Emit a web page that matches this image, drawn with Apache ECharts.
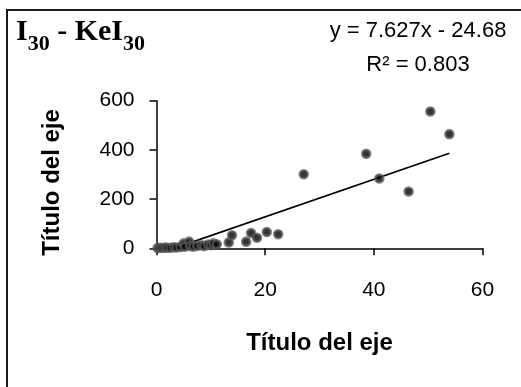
<!DOCTYPE html>
<html>
<head>
<meta charset="utf-8">
<script src="https://cdn.jsdelivr.net/npm/echarts@6/dist/echarts.min.js"></script>
<style>
  html, body { margin: 0; padding: 0; background: #fff; }
  #chart { width: 521px; height: 387px; }
</style>
</head>
<body>
<div id="chart"></div>
<script>
// I30 versus KeI30 observations
const xValues = [0.2, 0.6, 1.1, 1.6, 2.0, 2.6, 3.2, 3.7, 4.4, 5.0, 5.2, 6.0, 6.2, 6.8, 7.5, 8.3, 8.8, 9.5, 10.0, 10.5, 11.1, 13.3, 13.9, 16.5, 17.4, 18.5, 20.3, 22.4, 27.1, 38.6, 41.0, 46.4, 50.4, 53.9];
const yValues = [1, 2, 1, 3, 2, 2, 4, 3, 5, 20, 6, 27, 9, 7, 10, 12, 9, 15, 13, 20, 16, 24, 53, 27, 62, 43, 66, 57, 301, 384, 284, 231, 556, 464];

// Linear trend line y = slope * x + intercept
const slope = 7.627;
const intercept = -24.68;
const rSquared = 0.803;

const xTicks = { min: 0, max: 60, interval: 20 };
const yTicks = { min: 0, max: 600, interval: 200 };

const axisTitle = 'Título del eje';

const points = xValues.map((x, i) => [x, yValues[i]]);
const xMin = Math.min(...xValues);
const xMax = Math.max(...xValues);
const trend = [[xMin, slope * xMin + intercept], [xMax, slope * xMax + intercept]];

const sans = 'Liberation Sans';
const chart = echarts.init(document.getElementById('chart'));
chart.setOption({
  backgroundColor: '#fff',
  animation: false,
  title: {
    left: 16,
    top: 17,
    padding: 0,
    text: '{m|I}{s|30}{m| - KeI}{s|30}',
    textStyle: {
      rich: {
        m: { fontFamily: 'Liberation Serif', fontWeight: 'bold', fontSize: 30, lineHeight: 30, color: '#000', verticalAlign: 'top' },
        s: { fontFamily: 'Liberation Serif', fontWeight: 'bold', fontSize: 22, lineHeight: 22, color: '#000', verticalAlign: 'top', padding: [16, 0, 0, 0] }
      }
    }
  },
  graphic: [
    {
      type: 'rect',
      silent: true,
      shape: { x: 7, y: 10, width: 700, height: 600 },
      style: { fill: 'none', stroke: '#1a1a1a', lineWidth: 2 }
    },
    {
      type: 'text',
      x: 418,
      y: 14.4,
      style: {
        text: 'y = ' + slope + 'x - ' + Math.abs(intercept) + '\nR² = ' + rSquared,
        font: '22px "' + sans + '"',
        fill: '#000',
        align: 'center',
        verticalAlign: 'top',
        lineHeight: 34
      }
    }
  ],
  grid: { left: 156.5, right: 38.5, top: 100.7, bottom: 138.7, containLabel: false },
  xAxis: {
    type: 'value',
    min: xTicks.min, max: xTicks.max, interval: xTicks.interval,
    name: axisTitle,
    nameLocation: 'middle',
    nameGap: 83,
    nameTextStyle: { fontFamily: sans, fontWeight: 'bold', fontSize: 24, color: '#000' },
    axisLine: { show: true, lineStyle: { color: '#000', width: 1.5 } },
    axisTick: { show: true, inside: false, length: 7, lineStyle: { color: '#000', width: 1.5 } },
    axisLabel: { fontFamily: sans, fontSize: 21, color: '#000', margin: 31 },
    splitLine: { show: false }
  },
  yAxis: {
    type: 'value',
    min: yTicks.min, max: yTicks.max, interval: yTicks.interval,
    name: axisTitle,
    nameLocation: 'middle',
    nameGap: 92,
    nameTextStyle: { fontFamily: sans, fontWeight: 'bold', fontSize: 24, color: '#000', padding: [0, 16, 0, 0] },
    axisLine: { show: true, lineStyle: { color: '#000', width: 1.5 } },
    axisTick: { show: true, inside: false, length: 7, lineStyle: { color: '#000', width: 1.5 } },
    axisLabel: { fontFamily: sans, fontSize: 21, color: '#000', margin: 22, padding: [5, 0, 0, 0] },
    splitLine: { show: false }
  },
  series: [
    {
      type: 'line',
      data: trend,
      symbol: 'none',
      clip: true,
      z: 2,
      lineStyle: { color: '#000', width: 1.8 }
    },
    {
      type: 'scatter',
      data: points,
      symbol: 'circle',
      symbolSize: 8,
      z: 3,
      itemStyle: { color: '#000', borderColor: 'rgba(90,90,90,0.9)', borderWidth: 2.6 }
    }
  ]
});
</script>
</body>
</html>
